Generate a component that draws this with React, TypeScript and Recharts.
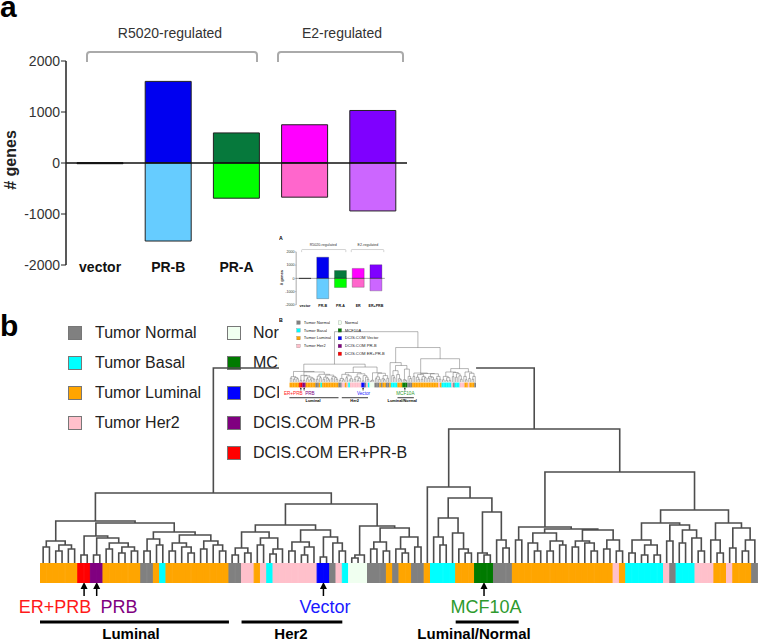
import { BarChart, Bar, XAxis, YAxis, Cell, ReferenceLine, LineChart, Line } from 'recharts'

const FONT = '"Liberation Sans", Arial, sans-serif'

// ---- panel a: regulated genes ----
const groups = ['vector', 'PR-B', 'PR-A', 'ER', 'ER+PRB']
const upGenes = [6, 1600, 590, 750, 1030]
const downGenes = [-14, -1530, -690, -670, -940]
const upColors = ['#111111', '#0000f0', '#06793c', '#ff00ff', '#7f00ff']
const downColors = ['#111111', '#66ccff', '#00ff00', '#ff66cc', '#cc66ff']
const geneTicks = [-2000, -1000, 0, 1000, 2000]
const coveredGroups = ['ER', 'ER+PRB'] // hidden under the thumbnail in the big figure

const geneRows = groups.map((g, i) => ({ group: g, up: upGenes[i], down: downGenes[i] }))

// ---- panel b: clustering ----
const sampleColors: Record<string, string> = {
  'Tumor Normal': '#808080',
  'Tumor Basal': '#00ffff',
  'Tumor Luminal': '#ffa500',
  'Tumor Her2': '#ffc0cb',
  Normal: '#f0fff0',
  MCF10A: '#007a00',
  'DCIS.COM Vector': '#0000ff',
  'DCIS.COM PR-B': '#800080',
  'DCIS.COM ER+PR-B': '#ff0000',
}
const legendLeft = ['Tumor Normal', 'Tumor Basal', 'Tumor Luminal', 'Tumor Her2']
const legendRight = ['Normal', 'MCF10A', 'DCIS.COM Vector', 'DCIS.COM PR-B', 'DCIS.COM ER+PR-B']

// colour strip under the tree, left to right, as [type, number of samples]
const stripRuns: [string, number][] = [
  ['Tumor Luminal', 6], ['DCIS.COM ER+PR-B', 2], ['DCIS.COM PR-B', 2], ['Tumor Luminal', 6],
  ['Tumor Normal', 2], ['Tumor Luminal', 1], ['Tumor Basal', 1], ['Tumor Luminal', 10],
  ['Tumor Normal', 2], ['Tumor Her2', 2], ['Tumor Luminal', 1], ['Tumor Her2', 1], ['Tumor Basal', 1],
  ['Tumor Her2', 7], ['DCIS.COM Vector', 2], ['Tumor Normal', 1], ['Tumor Her2', 1], ['Tumor Basal', 1],
  ['Normal', 3], ['Tumor Normal', 3], ['Tumor Luminal', 1], ['Tumor Normal', 1], ['Tumor Luminal', 2],
  ['Tumor Normal', 2], ['Tumor Luminal', 1], ['Tumor Basal', 4], ['Tumor Luminal', 3], ['MCF10A', 3],
  ['Tumor Normal', 3], ['Tumor Luminal', 16], ['Tumor Her2', 1], ['Tumor Luminal', 1], ['Tumor Basal', 6],
  ['Tumor Her2', 1], ['Tumor Normal', 1], ['Tumor Basal', 3], ['Tumor Her2', 3], ['Tumor Luminal', 2],
  ['Tumor Her2', 1], ['Tumor Luminal', 3], ['Tumor Normal', 1],
]

// tree: [merge height, left, right], a bare number is a sample index
type Node = number | [number, Node, Node]

const luminalTree: Node = [42,
  [22, [16, 0, 1], [18, [12, 2, 3], [14, 4, 5]]],
  [40,
    [27, [8, 6, 7], [25, [8, 8, 9], [20, [14, 10, 11], [16, [10, 12, 13], [12, 14, 15]]]]],
    [31, [24, [12, 16, 17], [18, 18, 19]],
      [28, [20, [12, 20, 21], [16, 22, [10, 23, 24]]], [22, [14, 25, 26], [18, 27, [12, 28, 29]]]]]]]

const her2Tree: Node = [59,
  [38,
    [31, [15, [8, 30, 31], [10, 32, 33]], [25, [18, 34, 35], [14, [9, 36, 37], 38]]],
    [33, [21, [12, 39, 40], [16, [8, 41, 42], 43]], [26, [6, 44, 45], [20, 46, [12, 47, 48]]]]],
  [37, [8, [5, 49, 50], 51],
    [35, [21, [14, 52, 53], [12, 54, 55]], [26, [14, 56, [10, 57, 58]], [16, 59, 60]]]]]

const normalTree: Node = [76, 61,
  [65,
    [45, [26, 62, [18, 63, 64]], [30, 65, [14, 66, [10, 67, 68]]]],
    [51, [10, 69, [8, 70, 71]], [23, 72, [15, 73, 74]]]]]

const mixedTree: Node = [91,
  [36, [23, 75, 76],
    [34, [30, [20, 77, [12, 78, 79]], [22, [12, 80, 81], [18, 82, 83]]],
      [33, [22, [16, 84, 85], [20, 86, [12, 87, 88]]], [23, [14, 89, 90], [12, 91, 92]]]]],
  [53,
    [40, [23, [10, 93, 94], [18, [8, 95, 96], [8, 97, 98]]],
      [38, [22, 99, 100], [33, [20, 101, 102], [25, 103, [12, 104, 105]]]]],
    [40, [23, 106, [10, 107, 108]], [35, [15, 109, 110], [23, [12, 111, 112], 113]]]]]

const sampleTree: Node = [195, [70, luminalTree, her2Tree], [134, normalTree, mixedTree]]

const markers = [
  { text: 'ER+PRB', color: '#ff1a1a', leaf: 6.5, textX: 55 },
  { text: 'PRB', color: '#800080', leaf: 8.5, textX: 119 },
  { text: 'Vector', color: '#1a1aff', leaf: 44.5, textX: 325 },
  { text: 'MCF10A', color: '#2e9a2e', leaf: 70, textX: 486 },
]
const subtypes = [
  { name: 'Luminal', from: 0, to: 29, textX: 131 },
  { name: 'Her2', from: 32, to: 47, textX: 291 },
  { name: 'Luminal/Normal', from: 66, to: 75, textX: 474 },
]

const leafColors: string[] = []
stripRuns.forEach(([t, n]) => {
  for (let k = 0; k < n; k++) leafColors.push(sampleColors[t])
})
const leafCount = leafColors.length
const stripRows = leafColors.map((c, i) => ({ leaf: i, v: 1, c }))

type Pt = { x: number; y: number | null }
function walk(node: Node, out: Pt[]): { x: number; h: number } {
  if (typeof node === 'number') return { x: node, h: 0 }
  const [h, a, b] = node
  const l = walk(a, out)
  const r = walk(b, out)
  out.push({ x: l.x, y: l.h }, { x: l.x, y: h }, { x: r.x, y: h }, { x: r.x, y: r.h }, { x: r.x, y: null })
  return { x: (l.x + r.x) / 2, h }
}
const treePoints: Pt[] = []
walk(sampleTree, treePoints)

const TREE_LEFT = 40
const TREE_W = 718
const leafX = (i: number) => TREE_LEFT + ((i + 0.5) * TREE_W) / leafCount
const leafEdge = (i: number) => TREE_LEFT + (i * TREE_W) / leafCount

function makeGroupTick(thumb: boolean) {
  return (props: any) => {
    const { x, y, payload } = props
    if (!thumb && coveredGroups.includes(payload.value)) return <g />
    return (
      <text x={x} y={y + 7} textAnchor="middle" fontSize={14} fontWeight="bold" fill="#111">
        {payload.value}
      </text>
    )
  }
}

function Figure({ thumb = false }: { thumb?: boolean }) {
  return (
    <div style={{ position: 'relative', width: 758, height: 641, background: '#fff', fontFamily: FONT, overflow: 'hidden' }}>
      <svg width={758} height={641} style={{ position: 'absolute', left: 0, top: 0 }}>
        <text x={0} y={thumb ? 14 : 17} fontSize={thumb ? 20 : 30} fontWeight="bold">{thumb ? 'A' : 'a'}</text>
        <text x={0} y={thumb ? 330 : 336} fontSize={thumb ? 20 : 30} fontWeight="bold">{thumb ? 'B' : 'b'}</text>
        <text x={170} y={38} fontSize={14} fill="#333" textAnchor="middle">R5020-regulated</text>
        <text x={342} y={38} fontSize={14} fill="#333" textAnchor="middle">E2-regulated</text>
        <path d="M87,62 L87,55 Q87,52 90,52 L254,52 Q257,52 257,55 L257,62" fill="none" stroke="#aaa" strokeWidth={2} />
        <path d="M278,62 L278,55 Q278,52 281,52 L400,52 Q403,52 403,55 L403,62" fill="none" stroke="#aaa" strokeWidth={2} />
        <text transform="translate(16,160) rotate(-90)" textAnchor="middle" fontSize={16} fontWeight="bold" fill="#222"># genes</text>

        {markers.map((m) => {
          const x = leafX(m.leaf)
          return (
            <g key={m.text}>
              <line x1={x} x2={x} y1={596} y2={587} stroke="#000" strokeWidth={1.5} />
              <path d={`M${x - 3.5},589 L${x + 3.5},589 L${x},582 Z`} fill="#000" />
              <text x={m.textX} y={613} fontSize={18} fill={m.color} textAnchor="middle">{m.text}</text>
            </g>
          )
        })}
        {subtypes.map((s) => (
          <g key={s.name}>
            <line x1={leafEdge(s.from)} x2={leafEdge(s.to + 1)} y1={622} y2={622} stroke="#000" strokeWidth={3} />
            <text x={s.textX} y={639} fontSize={15} fontWeight="bold" textAnchor="middle">{s.name}</text>
          </g>
        ))}
      </svg>

      <div style={{ position: 'absolute', left: 0, top: 0 }}>
        <BarChart width={420} height={290} data={geneRows} stackOffset="sign"
          margin={{ top: 61, right: 13, bottom: 5, left: 16 }}>
          <YAxis width={50} type="number" domain={[-2000, 2000]} ticks={geneTicks} interval={0}
            tick={{ fill: '#333', fontSize: 14 }} tickSize={5} tickMargin={1}
            axisLine={{ stroke: '#222', strokeWidth: 1.5 }} tickLine={{ stroke: '#222' }} />
          <XAxis dataKey="group" height={20} axisLine={false} tickLine={false} tickSize={0} tickMargin={0}
            interval={0} tick={makeGroupTick(thumb)} />
          <Bar dataKey="up" stackId="g" barSize={46} stroke="#222" strokeWidth={1} isAnimationActive={false}>
            {upColors.map((c, i) => <Cell key={i} fill={c} />)}
          </Bar>
          <Bar dataKey="down" stackId="g" barSize={46} stroke="#222" strokeWidth={1} isAnimationActive={false}>
            {downColors.map((c, i) => <Cell key={i} fill={c} />)}
          </Bar>
          <ReferenceLine y={0} stroke="#111" strokeWidth={1.5} />
        </BarChart>
      </div>

      {[legendLeft, legendRight].map((col, ci) =>
        col.map((name, ri) => {
          const cy = 333 + ri * 30
          const sqLeft = ci === 0 ? 68 : 227
          const txtLeft = ci === 0 ? 95 : 253
          const clip = !thumb && ci === 1 && ri < 3
          return (
            <div key={name}>
              <div style={{ position: 'absolute', left: sqLeft, top: cy - 7, width: 12, height: 12,
                background: sampleColors[name], border: '1px solid #777' }} />
              <div style={{ position: 'absolute', left: txtLeft, top: cy - 10, height: 20, lineHeight: '20px',
                fontSize: 16, color: '#222', whiteSpace: 'nowrap', overflow: 'hidden', width: clip ? 26 : undefined }}>
                {name}
              </div>
            </div>
          )
        })
      )}

      <div style={{ position: 'absolute', left: TREE_LEFT, top: 363 }}>
        <LineChart width={TREE_W} height={200} data={treePoints} margin={{ top: 0, right: 0, bottom: 0, left: 0 }}>
          <XAxis type="number" dataKey="x" domain={[-0.5, leafCount - 0.5]} hide />
          <YAxis type="number" domain={[0, 200]} hide />
          <Line dataKey="y" stroke="#4d4d4d" strokeWidth={1.6} dot={false} connectNulls={false}
            isAnimationActive={false} />
        </LineChart>
      </div>

      <div style={{ position: 'absolute', left: TREE_LEFT, top: 563 }}>
        <BarChart width={TREE_W} height={20} data={stripRows} margin={{ top: 0, right: 0, bottom: 0, left: 0 }}
          barCategoryGap={0} barGap={0}>
          <XAxis dataKey="leaf" hide />
          <YAxis type="number" domain={[0, 1]} hide />
          <Bar dataKey="v" isAnimationActive={false}>
            {stripRows.map((r) => <Cell key={r.leaf} fill={r.c} stroke={r.c} strokeWidth={1} />)}
          </Bar>
        </BarChart>
      </div>

      {!thumb && (
        <div style={{ position: 'absolute', left: 279, top: 236, width: 758, height: 641,
          transform: 'scale(0.26)', transformOrigin: '0 0' }}>
          <Figure thumb />
        </div>
      )}
    </div>
  )
}

export default function App() {
  return (
    <div style={{ position: 'absolute', left: 0, top: 0 }}>
      <Figure />
    </div>
  )
}
